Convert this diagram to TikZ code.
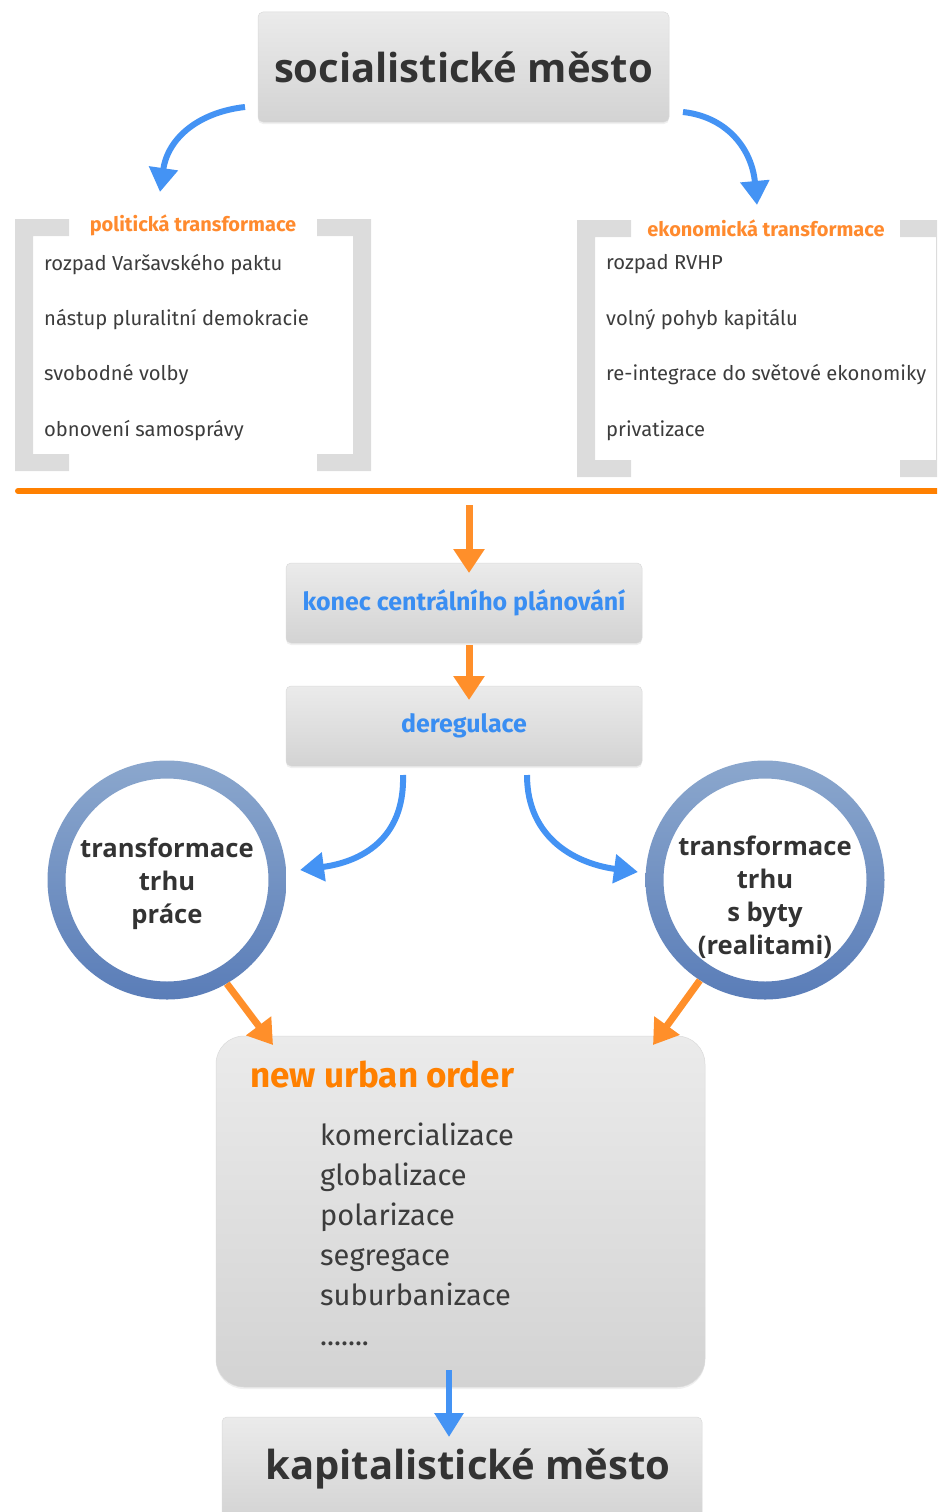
\documentclass[tikz,border=0pt]{standalone}
\usepackage{fontspec}
\setmainfont{Fira Sans}
\newfontfamily\heavyfont{Open Sans}
\usetikzlibrary{arrows.meta,calc,shadows}

\definecolor{boxtop}{HTML}{EBEBEB}
\definecolor{boxbot}{HTML}{D3D3D3}
\definecolor{boxedge}{HTML}{DADADA}
\definecolor{brgray}{HTML}{DCDCDC}
\definecolor{darktext}{HTML}{333333}
\definecolor{itemtext}{HTML}{3C3C3C}
\definecolor{ordark}{HTML}{FF8000}
\definecolor{orlight}{HTML}{FF8A2E}
\definecolor{orarr}{HTML}{FF8F2A}
\definecolor{bluetext}{HTML}{3A8EF2}
\definecolor{bluearr}{HTML}{4493F4}
\definecolor{ringtop}{HTML}{8BA7CD}
\definecolor{ringbot}{HTML}{5A7DB8}

\begin{document}
\begin{tikzpicture}[x=1pt,y=-1pt,
  graybox/.style={rectangle,rounded corners=5pt,top color=boxtop,bottom color=boxbot,draw=boxedge,line width=0.5pt,
    drop shadow={opacity=0.12,shadow xshift=0pt,shadow yshift=-2pt}},
  bigtext/.style={font=\heavyfont\bfseries\fontsize{40}{48}\selectfont,text=darktext},
  stagetext/.style={font=\bfseries\fontsize{25}{30}\selectfont,text=bluetext},
  brtitle/.style={font=\bfseries\fontsize{20}{24}\selectfont,text=orlight},
  item/.style={anchor=base west,inner sep=0pt,font=\fontsize{20.2}{24}\selectfont,text=itemtext},
  ringnode/.style={circle,minimum size=239pt,inner sep=0pt},
  ringtext/.style={align=center,font=\heavyfont\bfseries\fontsize{25.6}{33}\selectfont,text=darktext},
  trend/.style={anchor=base west,inner sep=0pt,font=\fontsize{29}{36}\selectfont,text=itemtext},
  bluearrow/.style={draw=bluearr,line width=6pt,-{Triangle[length=24pt,width=28pt]}},
  orarrow/.style={draw=orarr,line width=7pt,-{Triangle[length=24pt,width=30pt]}}]
\useasboundingbox (0,0) rectangle (937,1512);
\clip (0,0) rectangle (937,1512);

\node[graybox,minimum width=411pt,minimum height=110pt,bigtext] (socmesto) at (463.5,67) {socialistické město};

% brackets
\foreach \bx/\by/\bh/\d in {15/219/252/1,371/219/252/-1,577/220/257/1,954/220/257/-1}
  \fill[brgray] (\bx,\by) -- ++(54*\d,0) -- ++(0,17) -- ++(-36*\d,0) -- ++(0,\bh-34) -- ++(36*\d,0) -- ++(0,17) -- ++(-54*\d,0) -- cycle;
\node[brtitle] (poltit) at (193,225) {politická transformace};
\node[brtitle] (ekotit) at (766,228) {ekonomická transformace};
\foreach \t [count=\i] in {rozpad Varšavského paktu,nástup pluralitní demokracie,svobodné volby,obnovení samosprávy}
  \node[item] (pol\i) at (44,215+55.3*\i) {\t};
\foreach \t [count=\i] in {rozpad RVHP,volný pohyb kapitálu,re-integrace do světové ekonomiky,privatizace}
  \node[item] (eko\i) at (606,214+55.5*\i) {\t};

\draw[ordark,line width=6pt,line cap=round] (18,491) -- (945,491);
\coordinate (rule) at (469,491);

\node[graybox,minimum width=356pt,minimum height=80pt,stagetext] (konec) at (464,603) {konec centrálního plánování};
\node[graybox,minimum width=356pt,minimum height=80pt,stagetext] (dereg) at (464,726) {deregulace};

% rings
\node[ringnode] (labour) at (167,880) {};
\node[ringnode] (housing) at (765,880) {};
\foreach \c in {labour,housing}
  \shade[top color=ringtop,bottom color=ringbot,even odd rule] (\c) circle (119.5) circle (101.5);
\node[ringtext] (labourtxt) at ($(labour)+(0,4)$) {transformace\\trhu\\práce};
\node[ringtext] (housingtxt) at ($(housing)+(0,17)$) {transformace\\trhu\\s byty\\(realitami)};

\node[graybox,rounded corners=28pt,minimum width=489pt,minimum height=351pt] (order) at (460.5,1211.5) {};
\node[anchor=base west,inner sep=0pt,font=\bfseries\fontsize{35}{40}\selectfont,text=ordark] (ordertit) at (250,1087) {new urban order};
\foreach \t [count=\i] in {komercializace,globalizace,polarizace,segregace,suburbanizace}
  \node[trend] (trend\i) at (320,1106+39.8*\i) {\t};
\node[trend] (trend6) at (320,1345) {.......};

\node[graybox,minimum width=480pt,minimum height=104pt,bigtext] (kapmesto) at (462,1469) {\hspace*{12pt}kapitalistické město};

\draw[bluearrow] ($(socmesto)+(-218.5,40)$) .. controls +(-45,5) and +(8,-55) .. ($(poltit)+(-33,-33)$);
\draw[bluearrow] ($(socmesto)+(219.5,45)$) .. controls +(45,5) and +(-5,-55) .. ($(ekotit)+(-9,-23)$);
\draw[orarrow] ($(rule)+(0,14)$) -- ($(konec)+(5,-30)$);
\draw[orarrow] ($(konec)+(5,42)$) -- ($(dereg)+(5,-26)$);
\draw[bluearrow] ($(dereg)+(-61,49)$) .. controls +(2,65) and +(60,-8) .. ($(labour)+(133,-10)$);
\draw[bluearrow] ($(dereg)+(63,49)$) .. controls +(0,65) and +(-60,-8) .. ($(housing)+(-127,-8)$);
\draw[orarrow] (labour.-60) -- ($(order)+(-187.5,-166.5)$);
\draw[orarrow] (housing.-123) -- ($(order)+(192.5,-166.5)$);
\draw[bluearrow] ($(order)+(-11.5,158.5)$) -- ($(kapmesto)+(-13,-32)$);
\end{tikzpicture}
\end{document}
